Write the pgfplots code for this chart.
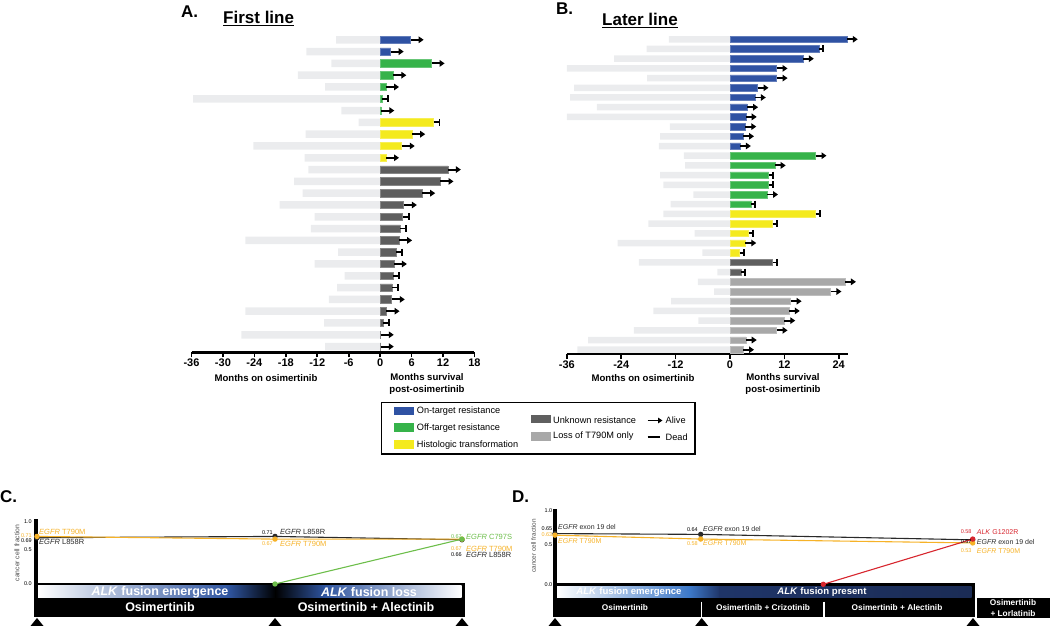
\documentclass[border=0pt]{standalone}
\usepackage{fontspec}
\setmainfont{Liberation Sans}
\usepackage{pgfplots}
\pgfplotsset{compat=1.18}
\usepackage{pgfplotstable}
\usetikzlibrary{arrows.meta}

\definecolor{ontarget}{HTML}{2F52A3}
\definecolor{offtarget}{HTML}{36B34A}
\definecolor{histo}{HTML}{F4EA1E}
\definecolor{unknown}{HTML}{5F5F5F}
\definecolor{losst}{HTML}{A8A8A8}
\definecolor{prebar}{HTML}{EBECEE}
\definecolor{ccforange}{HTML}{F6B228}
\definecolor{ccfgreen}{HTML}{6DBE4B}
\definecolor{ccfred}{HTML}{D7262E}
\definecolor{ccfblack}{HTML}{2A2A2A}
\definecolor{bandblue}{HTML}{2F55A0}
\definecolor{ddblue}{HTML}{3C78C8}
\definecolor{dnavy}{HTML}{1F3568}
\definecolor{dnavyb}{HTML}{1B2C55}

\newcommand{\fs}[1]{\fontsize{#1}{#1}\selectfont}
\newcommand{\eg}{\textit{EGFR}}

% r = row (top = highest), pre = months on osimertinib, post = months after,
% g = 1 on-target, 2 off-target, 3 histologic, 4 unknown, 5 loss of T790M; s = 1 alive
\pgfplotstableread{
r pre post g s
27 -8.4 5.8 1 1
26 -14.1 2.0 1 1
25 -9.3 9.8 2 1
24 -15.7 2.5 2 1
23 -10.5 1.1 2 1
22 -35.7 0.4 2 0
21 -7.4 0.2 2 1
20 -4.1 10.2 3 0
19 -14.2 6.1 3 1
18 -24.2 4.1 3 1
17 -14.4 1.1 3 1
16 -13.7 12.9 4 1
15 -16.4 11.5 4 1
14 -14.8 8.0 4 1
13 -19.2 4.5 4 1
12 -12.5 4.3 4 0
11 -13.2 3.8 4 0
10 -25.7 3.6 4 1
9 -8.0 3.1 4 0
8 -12.5 2.6 4 1
7 -6.8 2.5 4 0
6 -8.2 2.3 4 0
5 -9.8 2.2 4 1
4 -25.7 1.2 4 1
3 -10.7 0.5 4 0
2 -26.5 0.1 4 1
1 -10.5 0.1 4 1
}\firstline

\pgfplotstableread{
r pre post g s
33 -13.5 25.8 1 1
32 -18.4 19.7 1 0
31 -25.6 16.1 1 1
30 -36.0 10.3 1 1
29 -18.3 10.3 1 1
28 -34.4 6.1 1 1
27 -35.3 5.5 1 1
26 -29.4 3.8 1 1
25 -36.0 3.5 1 1
24 -13.3 3.4 1 1
23 -15.4 2.9 1 1
22 -15.7 2.2 1 1
21 -10.2 18.9 2 1
20 -9.9 9.9 2 1
19 -15.4 8.5 2 0
18 -14.7 8.5 2 0
17 -8.1 8.2 2 1
16 -13.1 4.7 2 0
15 -14.7 18.9 3 0
14 -18.0 9.4 3 0
13 -7.8 4.1 3 0
12 -24.8 3.4 3 1
11 -6.1 2.1 3 0
10 -20.1 9.4 4 0
9 -2.8 2.4 4 0
8 -7.1 25.4 5 1
7 -3.5 22.2 5 1
6 -13.0 13.4 5 1
5 -16.9 13.0 5 1
4 -7.0 12.0 5 1
3 -21.2 10.3 5 1
2 -31.3 3.5 5 1
1 -33.7 2.9 5 1
}\laterline

\pgfplotsset{
  swimmer/.style={
    scale only axis, clip=false, anchor=south west,
    axis x line=bottom, axis y line=none,
    x axis line style={-, line width=2.4pt},
    tick align=outside, major tick length=5pt,
    xtick style={line width=1.6pt, black},
    xticklabel style={font=\bfseries\fs{11}, inner sep=1.5pt},
    ytick=\empty,
  },
  pre/.style={xbar, bar shift=0pt, bar width=#1, fill=prebar, draw=none},
  post/.style n args={3}{xbar, bar shift=0pt, bar width=#2, fill=#1,
    draw=#1!75!white, line width=0.5pt,
    restrict expr to domain={\thisrow{g}}{#3:#3}},
  alive/.style={black, line width=1.9pt,
    quiver={u=#1, v=0, every arrow/.append style={black, line width=1.9pt,
      -{Triangle[length=5pt,width=6.5pt]}}},
    restrict expr to domain={\thisrow{s}}{1:1}},
  dead/.style={black, line width=1.8pt,
    quiver={u=#1, v=0, every arrow/.append style={black, line width=1.8pt,
      -{Bar[width=7pt]}}},
    restrict expr to domain={\thisrow{s}}{0:0}},
  ccf/.style={hide axis, scale only axis, clip=false, anchor=south west, ymin=0, ymax=1},
  ccfline/.style={#1, line width=1.1pt, mark=*, mark size=2.1pt, mark options={solid, fill=#1}},
}

\begin{document}
\begin{tikzpicture}[x=1pt,y=1pt]
\useasboundingbox (0,0) rectangle (1050,626);

% ---------- boxes of panels C and D, legend frame ----------
\begin{scope}[x=1pt,y=-1pt,shift={(0pt,626pt)}]
  % legend
  \draw[line width=1.1pt] (381.7,402.7) rectangle (695,454);
  \fill[ontarget] (394,407) rectangle (414,415.5);
  \fill[offtarget] (394,423.5) rectangle (414,432);
  \fill[histo] (394,440) rectangle (414,449);
  \fill[unknown] (530.7,415) rectangle (550.7,423.5);
  \fill[losst] (530.7,431.7) rectangle (550.7,441);
  \draw[line width=1.6pt, -{Triangle[length=4.5pt,width=5.5pt]}] (647.7,420.5) -- (662.5,420.5);
  \draw[line width=2.2pt] (647.7,437) -- (660,437);

  % panel C timeline
  \fill[black] (34.3,519) rectangle (38,600);
  \fill[black] (34.3,582.7) rectangle (465,616.7);
  \shade[left color=white, right color=bandblue] (38,586) rectangle (228,597.7);
  \shade[left color=bandblue, right color=black] (228,586) rectangle (275.5,597.7);
  \shade[left color=black, right color=bandblue] (275,586) rectangle (325,597.7);
  \shade[left color=bandblue, right color=white] (324.5,586) rectangle (461.7,597.7);
  \foreach \t in {37,275,462} \fill (\t-6.5,626) -- (\t,618) -- (\t+6.5,626) -- cycle;

  % panel D timeline
  \fill[black] (553,509) rectangle (557,600);
  \fill[black] (553,582.7) rectangle (974.5,616.7);
  \fill[black] (976.5,597.7) rectangle (1050,618);
  \shade[left color=white, right color=ddblue] (557,586.7) rectangle (690,597.3);
  \shade[left color=ddblue, right color=dnavy] (689.5,586.7) rectangle (720,597.3);
  \shade[left color=dnavy, right color=dnavyb] (719.5,586.7) rectangle (971.7,597.3);
  \draw[white, line width=1.2pt] (701.7,601.7) -- (701.7,617);
  \draw[white, line width=1.2pt] (824,601.7) -- (824,617);
  \foreach \t in {555,701.7,973} \fill (\t-6.5,626) -- (\t,618) -- (\t+6.5,626) -- cycle;
\end{scope}

% ---------- A. First line ----------
\begin{axis}[swimmer, at={(191.5pt,273.5pt)}, width=283pt, height=324.5pt,
  xmin=-36, xmax=18, ymin=0.5, ymax=28,
  xtick={-36,-30,-24,-18,-12,-6,0,6,12,18},
  xticklabels={-36,-30,-24,-18,-12,-6,0,6,12,18}]
\addplot[pre=7.5pt] table[x=pre, y=r] {\firstline};
\addplot[post={ontarget}{7.5pt}{1}] table[x=post, y=r] {\firstline};
\addplot[post={offtarget}{7.5pt}{2}] table[x=post, y=r] {\firstline};
\addplot[post={histo}{7.5pt}{3}] table[x=post, y=r] {\firstline};
\addplot[post={unknown}{7.5pt}{4}] table[x=post, y=r] {\firstline};
\addplot[alive=2.5] table[x=post, y=r] {\firstline};
\addplot[dead=1.3] table[x=post, y=r] {\firstline};
\end{axis}

% ---------- B. Later line ----------
\begin{axis}[swimmer, at={(566.9pt,271.9pt)}, width=280.9pt, height=324.5pt,
  xmin=-36, xmax=26, ymin=0.55, ymax=34,
  xtick={-36,-24,-12,0,12,24},
  xticklabels={-36,-24,-12,0,12,24}]
\addplot[pre=6.5pt] table[x=pre, y=r] {\laterline};
\addplot[post={ontarget}{6.5pt}{1}] table[x=post, y=r] {\laterline};
\addplot[post={offtarget}{6.5pt}{2}] table[x=post, y=r] {\laterline};
\addplot[post={histo}{6.5pt}{3}] table[x=post, y=r] {\laterline};
\addplot[post={unknown}{6.5pt}{4}] table[x=post, y=r] {\laterline};
\addplot[post={losst}{6.5pt}{5}] table[x=post, y=r] {\laterline};
\addplot[alive=2.4] table[x=post, y=r] {\laterline};
\addplot[dead=1.1] table[x=post, y=r] {\laterline};
\end{axis}

% ---------- C. cancer cell fraction ----------
\begin{axis}[ccf, at={(30pt,42pt)}, width=440pt, height=67pt, xmin=30, xmax=470]
\addplot[ccfline=ccfblack] coordinates {(37,0.69) (275,0.71) (462,0.66)};
\addplot[ccfline=ccforange] coordinates {(37,0.71) (275,0.67) (462,0.67)};
\addplot[ccfline=ccfgreen] coordinates {(275,0) (462,0.67)};
\end{axis}

% ---------- D. cancer cell fraction ----------
\begin{axis}[ccf, at={(550pt,41.7pt)}, width=500pt, height=78pt, xmin=550, xmax=1050]
\addplot[ccfline=ccfblack] coordinates {(555,0.65) (700.7,0.64) (972.7,0.57)};
\addplot[ccfline=ccforange] coordinates {(555,0.63) (700.7,0.58) (972.7,0.53)};
\addplot[ccfline=ccfred] coordinates {(823.3,0) (972.7,0.58)};
\end{axis}

% ---------- texts ----------
\begin{scope}[x=1pt,y=-1pt,shift={(0pt,626pt)}]
  \node[anchor=base west, inner sep=0, font=\bfseries\fs{17}] at (181,17.2) {A.};
  \node[anchor=base west, inner sep=0, font=\bfseries\fs{17}] at (223,24) {\underline{First line}};
  \node[anchor=base west, inner sep=0, font=\bfseries\fs{17}] at (556,15) {B.};
  \node[anchor=base west, inner sep=0, font=\bfseries\fs{17}] at (602,25.7) {\underline{Later line}};

  \node[inner sep=0, font=\bfseries\fs{9.6}] at (266,378) {Months on osimertinib};
  \node[inner sep=0, align=center, font=\bfseries\fontsize{9.6}{12}\selectfont] at (427,384) {Months survival\\post-osimertinib};
  \node[inner sep=0, font=\bfseries\fs{9.6}] at (643,378) {Months on osimertinib};
  \node[inner sep=0, align=center, font=\bfseries\fontsize{9.6}{12}\selectfont] at (783,384) {Months survival\\post-osimertinib};

  \begin{scope}[every node/.style={anchor=west, inner sep=0, font=\fs{9.2}}]
    \node at (416.7,411.5) {On-target resistance};
    \node at (416.7,428) {Off-target resistance};
    \node at (416.7,445) {Histologic transformation};
    \node at (553,420.5) {Unknown resistance};
    \node at (553,436.5) {Loss of T790M only};
    \node at (665.5,420.5) {Alive};
    \node at (665.5,437) {Dead};
  \end{scope}

  % panel C
  \node[anchor=base west, inner sep=0, font=\bfseries\fs{17}] at (0,503) {C.};
  \node[rotate=90, inner sep=0, text=black!70, font=\fs{6.8}] at (17,553) {cancer cell fraction};
  \begin{scope}[every node/.style={anchor=east, inner sep=0, font=\fs{5.5}}]
    \node at (32,521.7) {1.0};
    \node[text=ccforange] at (32,535.3) {0.71};
    \node at (32,541) {0.69};
    \node at (32,550) {0.5};
    \node at (32,584) {0.0};
    \node at (273,532.3) {0.71};
    \node[text=ccforange] at (273,544) {0.67};
    \node[text=ccfgreen] at (462,536.7) {0.67};
    \node[text=ccforange] at (462,549) {0.67};
    \node at (462,555) {0.66};
  \end{scope}
  \begin{scope}[every node/.style={anchor=west, inner sep=0, font=\fs{7.5}}]
    \node[text=ccforange] at (39,531.7) {\eg{} T790M};
    \node[text=ccfblack] at (39,541.7) {\eg{} L858R};
    \node[text=ccfblack] at (280,532.3) {\eg{} L858R};
    \node[text=ccforange] at (280,544) {\eg{} T790M};
    \node[text=ccfgreen] at (466,536.7) {\eg{} C797S};
    \node[text=ccforange] at (466,549) {\eg{} T790M};
    \node[text=ccfblack] at (466,555) {\eg{} L858R};
  \end{scope}
  \begin{scope}[every node/.style={inner sep=0, text=white, font=\bfseries\fs{12.5}}]
    \node at (160,591.8) {\textit{ALK} fusion emergence};
    \node at (369,591.8) {\textit{ALK} fusion loss};
    \node at (160,607.3) {Osimertinib};
    \node at (366,607.3) {Osimertinib + Alectinib};
  \end{scope}

  % panel D
  \node[anchor=base west, inner sep=0, font=\bfseries\fs{17}] at (512,503) {D.};
  \node[rotate=90, inner sep=0, text=black!70, font=\fs{6.4}] at (533.5,546) {cancer cell fraction};
  \begin{scope}[every node/.style={anchor=east, inner sep=0, font=\fs{5.5}}]
    \node at (552.5,510.7) {1.0};
    \node at (552.5,529) {0.65};
    \node[text=ccforange] at (552.5,534.3) {0.63};
    \node at (552.5,545) {0.5};
    \node at (552.5,584.3) {0.0};
    \node at (698,529.3) {0.64};
    \node[text=ccforange] at (698,543.3) {0.58};
    \node[text=ccfred] at (971.7,531.7) {0.58};
    \node at (971.7,541.7) {0.57};
    \node[text=ccforange] at (971.7,550.7) {0.53};
  \end{scope}
  \begin{scope}[every node/.style={anchor=west, inner sep=0, font=\fs{7}}]
    \node[text=ccfblack] at (558,526.7) {\eg{} exon 19 del};
    \node[text=ccforange] at (558,540.7) {\eg{} T790M};
    \node[text=ccfblack] at (703,529.3) {\eg{} exon 19 del};
    \node[text=ccforange] at (703,543.3) {\eg{} T790M};
    \node[text=ccfred] at (976.7,531.7) {\textit{ALK} G1202R};
    \node[text=ccfblack] at (976.7,541.7) {\eg{} exon 19 del};
    \node[text=ccforange] at (976.7,550.7) {\eg{} T790M};
  \end{scope}
  \begin{scope}[every node/.style={inner sep=0, text=white, font=\bfseries\fs{9.6}}]
    \node at (629,592) {\textit{ALK} fusion emergence};
    \node at (822,592) {\textit{ALK} fusion present};
  \end{scope}
  \begin{scope}[every node/.style={inner sep=0, text=white, font=\bfseries\fs{8.3}}]
    \node at (625,607.5) {Osimertinib};
    \node at (763,607.5) {Osimertinib + Crizotinib};
    \node at (897,607.5) {Osimertinib + Alectinib};
    \node at (1013,603) {Osimertinib};
    \node at (1013,613.5) {+ Lorlatinib};
  \end{scope}
\end{scope}
\end{tikzpicture}
\end{document}
